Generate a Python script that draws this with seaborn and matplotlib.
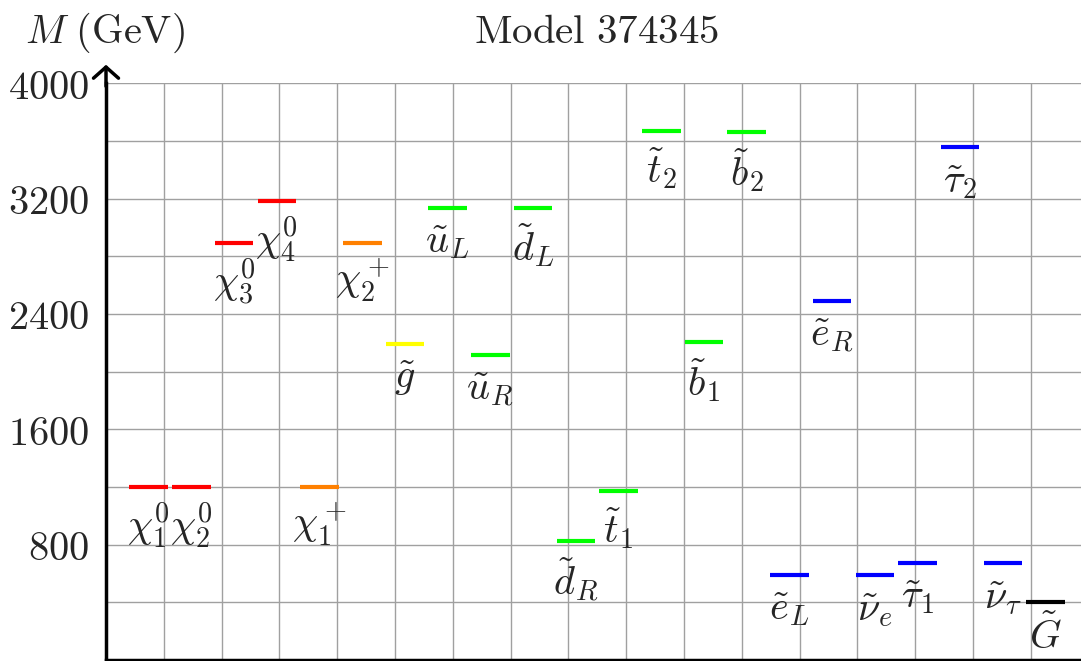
import numpy as np
import pandas as pd
import matplotlib
matplotlib.use("Agg")
import matplotlib.pyplot as plt
import seaborn as sns

# particles in plotting order, left to right
labels = [r'$\chi_1^0$', r'$\chi_2^0$', r'$\chi_3^0$', r'$\chi_4^0$', r'$\chi_1^+$', r'$\chi_2^+$',
          r'$\tilde{g}$', r'$\tilde{u}_L$', r'$\tilde{u}_R$', r'$\tilde{d}_L$', r'$\tilde{d}_R$',
          r'$\tilde{t}_1$', r'$\tilde{t}_2$', r'$\tilde{b}_1$', r'$\tilde{b}_2$',
          r'$\tilde{e}_L$', r'$\tilde{e}_R$', r'$\tilde{\nu}_e$', r'$\tilde{\tau}_1$', r'$\tilde{\tau}_2$',
          r'$\tilde{\nu}_\tau$', r'$\tilde{G}$']
masses = [1200, 1200, 2895, 3186, 1200, 2895,
          2192, 3138, 2113, 3138, 823,
          1172, 3667, 2206, 3662,
          592, 2492, 587, 675, 3558,
          670, 400]
groups = (['neutralino'] * 4 + ['chargino'] * 2 + ['gluino'] + ['squark'] * 8
          + ['slepton'] * 6 + ['gravitino'])
palette = {'neutralino': '#ff0000', 'chargino': '#ff8000', 'gluino': '#ffff00',
           'squark': '#00ff00', 'slepton': '#0000ff', 'gravitino': '#000000'}

ytick_major = [800, 1600, 2400, 3200, 4000]
ytick_labels = [r'$800$', r'$1600$', r'$2400$', r'$3200$', r'$4000$']
title = r'$\mathrm{Model\ 374345}$'
ylabel = r'$M\ \mathrm{(GeV)}$'

if __name__ == "__main__":
    sns.set_style("white")
    plt.rcParams['mathtext.fontset'] = 'cm'

    df = pd.DataFrame({'pos': np.arange(1, len(masses) + 1), 'mass': masses,
                       'group': groups, 'label': labels})

    fig = plt.figure(figsize=(10.81, 6.61), dpi=100)
    ax = fig.add_axes([106 / 1081, 1 / 661, 975 / 1081, 576.7 / 661])

    sns.scatterplot(data=df, x='pos', y='mass', hue='group', palette=palette,
                    marker='_', s=770, linewidth=3, legend=False, ax=ax, zorder=3)

    for _, row in df.iterrows():
        ax.annotate(row['label'], xy=(row['pos'], row['mass']), xytext=(0, -10),
                    textcoords='offset points', ha='center', va='top', fontsize=29, zorder=4)

    xmax = 975 / 42.71
    step = 1.3533
    ax.set_xlim(0, xmax)
    ax.set_ylim(0, 4000)
    ax.set_xticks(np.arange(step, xmax, step))
    ax.set_xticklabels([])
    ax.set_yticks(ytick_major)
    ax.set_yticklabels(ytick_labels, fontsize=29)
    ax.set_yticks(np.arange(400, 4000, 800), minor=True)
    ax.tick_params(axis='x', length=0)
    ax.tick_params(axis='y', which='both', direction='inout', length=7, width=1.2,
                   color='black', pad=9)
    ax.grid(True, which='both', color='#a0a0a0', linewidth=1.0)
    ax.set_xlabel('')
    ax.set_ylabel('')

    for side in ['top', 'right']:
        ax.spines[side].set_visible(False)
    for side in ['left', 'bottom']:
        ax.spines[side].set_linewidth(2.5)
        ax.spines[side].set_color('black')

    ax.annotate('', xy=(0, 1.037), xytext=(0, 0.99), xycoords='axes fraction',
                arrowprops=dict(arrowstyle='->,head_width=0.45,head_length=0.4',
                                lw=2.5, color='black', mutation_scale=20),
                annotation_clip=False)

    fig.text(597 / 1081, 1 - 43 / 661, title, ha='center', va='baseline', fontsize=29.5)
    fig.text(25 / 1081, 1 - 43 / 661, ylabel, ha='left', va='baseline', fontsize=29)

    fig.savefig('out.png', dpi=100)
